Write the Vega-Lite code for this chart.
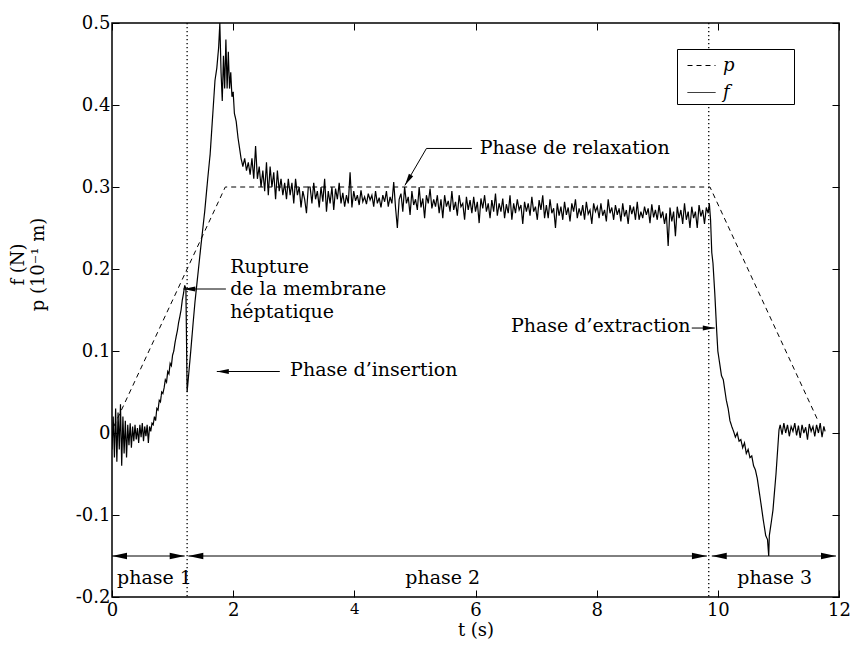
{
"$schema":"https://vega.github.io/schema/vega-lite/v6.json",
"width":727,"height":574,
"autosize":{"type":"none"},
"padding":{"left":112,"top":23,"right":16,"bottom":49},
"background":"white",
"config":{
 "view":{"stroke":"black","strokeWidth":1.5},
 "font":"DejaVu Serif",
 "axis":{"domain":false,"tickColor":"black","tickWidth":1,"tickSize":-7,"labelColor":"black","labelFont":"DejaVu Serif","labelFontSize":18,"labelFlush":false,"labelOverlap":false,"grid":false,"titleFont":"DejaVu Serif","titleFontSize":18,"titleFontWeight":"normal","titleColor":"black"},
 "legend":{"orient":"none","legendX":565,"legendY":26,"title":null,"strokeColor":"black","fillColor":"white","padding":2,"symbolType":"stroke","symbolSize":784,"symbolStrokeWidth":1,"symbolStrokeColor":"black","symbolOffset":8,"labelFontStyle":"italic","labelFontSize":18,"labelFont":"DejaVu Serif","labelColor":"black","rowPadding":3,"labelOffset":7}
},
"datasets":{
 "f":[
{"t":0,"v":-0.02},{"t":0.02,"v":0.02},{"t":0.04,"v":-0.03},{"t":0.06,"v":0.03},{"t":0.08,"v":-0.035},{"t":0.1,"v":0.025},{"t":0.12,"v":-0.02},{"t":0.14,"v":0.035},{"t":0.16,"v":-0.04},{"t":0.18,"v":0.02},{"t":0.2,"v":-0.025},{"t":0.22,"v":0.015},{"t":0.24,"v":-0.03},{"t":0.26,"v":0.01},{"t":0.28,"v":-0.015},{"t":0.3,"v":0.012},{"t":0.32,"v":-0.018},{"t":0.34,"v":0.008},{"t":0.36,"v":-0.01},{"t":0.38,"v":0.01},{"t":0.4,"v":-0.008},{"t":0.42,"v":0.006},{"t":0.44,"v":-0.012},{"t":0.46,"v":0.01},{"t":0.48,"v":-0.005},{"t":0.5,"v":0.012},{"t":0.52,"v":-0.01},{"t":0.54,"v":0.008},{"t":0.56,"v":-0.004},{"t":0.58,"v":0.01},{"t":0.6,"v":-0.012},{"t":0.62,"v":0.008},{"t":0.64,"v":0.002},{"t":0.66,"v":0.012},{"t":0.68,"v":0.01},{"t":0.7,"v":0.02},{"t":0.72,"v":0.015},{"t":0.74,"v":0.03},{"t":0.76,"v":0.028},{"t":0.78,"v":0.04},{"t":0.8,"v":0.038},{"t":0.82,"v":0.05},{"t":0.84,"v":0.048},{"t":0.86,"v":0.055},{"t":0.88,"v":0.065},{"t":0.9,"v":0.062},{"t":0.92,"v":0.075},{"t":0.94,"v":0.072},{"t":0.96,"v":0.085},{"t":0.98,"v":0.082},{"t":1,"v":0.095},{"t":1.02,"v":0.1},{"t":1.04,"v":0.11},{"t":1.06,"v":0.118},{"t":1.08,"v":0.125},{"t":1.1,"v":0.135},{"t":1.12,"v":0.142},{"t":1.14,"v":0.15},{"t":1.16,"v":0.162},{"t":1.18,"v":0.17},{"t":1.2,"v":0.18},{"t":1.22,"v":0.176},{"t":1.24,"v":0.05},
{"t":1.27,"v":0.075},{"t":1.3,"v":0.1},{"t":1.34,"v":0.135},{"t":1.37,"v":0.16},{"t":1.42,"v":0.195},{"t":1.47,"v":0.23},{"t":1.53,"v":0.27},{"t":1.58,"v":0.31},{"t":1.62,"v":0.34},{"t":1.66,"v":0.385},{"t":1.7,"v":0.43},{"t":1.73,"v":0.445},{"t":1.76,"v":0.47},{"t":1.78,"v":0.5},{"t":1.8,"v":0.44},{"t":1.82,"v":0.405},{"t":1.84,"v":0.46},{"t":1.86,"v":0.42},{"t":1.88,"v":0.48},{"t":1.9,"v":0.42},{"t":1.92,"v":0.465},{"t":1.94,"v":0.42},{"t":1.96,"v":0.44},{"t":1.98,"v":0.41},
{"t":2,"v":0.416},{"t":2.02,"v":0.39},{"t":2.05,"v":0.38},{"t":2.08,"v":0.36},{"t":2.1,"v":0.35},{"t":2.13,"v":0.335},{"t":2.16,"v":0.325},{"t":2.19,"v":0.335},{"t":2.22,"v":0.32},{"t":2.25,"v":0.33},{"t":2.28,"v":0.315},{"t":2.31,"v":0.335},{"t":2.34,"v":0.31},{"t":2.37,"v":0.35},{"t":2.4,"v":0.31},{"t":2.43,"v":0.325},{"t":2.46,"v":0.3},{"t":2.49,"v":0.32},{"t":2.52,"v":0.295},{"t":2.55,"v":0.33},{"t":2.58,"v":0.29},{"t":2.61,"v":0.325},{"t":2.64,"v":0.3},{"t":2.67,"v":0.318},{"t":2.7,"v":0.285},{"t":2.73,"v":0.32},{"t":2.76,"v":0.295},{"t":2.79,"v":0.31},{"t":2.82,"v":0.29},{"t":2.85,"v":0.305},{"t":2.88,"v":0.285},{"t":2.91,"v":0.31},{"t":2.94,"v":0.29},
{"t":2.97,"v":0.305},{"t":3.0,"v":0.28},{"t":3.03,"v":0.31},{"t":3.06,"v":0.29},{"t":3.09,"v":0.3},{"t":3.12,"v":0.275},{"t":3.15,"v":0.295},{"t":3.18,"v":0.285},{"t":3.21,"v":0.268},{"t":3.24,"v":0.3},
{"t":3.27,"v":0.3},{"t":3.3,"v":0.28},{"t":3.33,"v":0.305},{"t":3.36,"v":0.285},{"t":3.39,"v":0.295},{"t":3.42,"v":0.275},{"t":3.45,"v":0.3},{"t":3.48,"v":0.282},{"t":3.51,"v":0.31},{"t":3.54,"v":0.27},
{"t":3.57,"v":0.295},{"t":3.6,"v":0.28},{"t":3.63,"v":0.3},{"t":3.66,"v":0.272},{"t":3.69,"v":0.298},{"t":3.72,"v":0.285},{"t":3.75,"v":0.305},{"t":3.78,"v":0.28},{"t":3.81,"v":0.293},{"t":3.84,"v":0.276},
{"t":3.87,"v":0.29},{"t":3.9,"v":0.28},{"t":3.93,"v":0.318},{"t":3.96,"v":0.275},{"t":3.99,"v":0.295},{"t":4.02,"v":0.283},{"t":4.05,"v":0.29},{"t":4.08,"v":0.278},{"t":4.11,"v":0.296},{"t":4.14,"v":0.282},
{"t":4.17,"v":0.288},{"t":4.2,"v":0.279},{"t":4.23,"v":0.292},{"t":4.26,"v":0.284},{"t":4.29,"v":0.29},{"t":4.32,"v":0.276},{"t":4.35,"v":0.295},{"t":4.38,"v":0.28},{"t":4.41,"v":0.287},{"t":4.44,"v":0.275},
{"t":4.47,"v":0.29},{"t":4.5,"v":0.282},{"t":4.53,"v":0.295},{"t":4.56,"v":0.276},{"t":4.59,"v":0.288},{"t":4.62,"v":0.28},{"t":4.65,"v":0.306},{"t":4.68,"v":0.275},{"t":4.71,"v":0.25},{"t":4.74,"v":0.285},
{"t":4.77,"v":0.292},{"t":4.8,"v":0.27},{"t":4.83,"v":0.3},{"t":4.86,"v":0.28},{"t":4.89,"v":0.288},{"t":4.92,"v":0.266},{"t":4.95,"v":0.295},{"t":4.98,"v":0.278},{"t":5.01,"v":0.285},{"t":5.04,"v":0.272},
{"t":5.07,"v":0.3},{"t":5.1,"v":0.275},{"t":5.13,"v":0.286},{"t":5.16,"v":0.262},{"t":5.19,"v":0.29},{"t":5.22,"v":0.28},{"t":5.25,"v":0.298},{"t":5.28,"v":0.274},{"t":5.31,"v":0.285},{"t":5.34,"v":0.276},
{"t":5.37,"v":0.29},{"t":5.4,"v":0.268},{"t":5.43,"v":0.285},{"t":5.46,"v":0.262},{"t":5.49,"v":0.29},{"t":5.52,"v":0.276},{"t":5.55,"v":0.283},{"t":5.58,"v":0.27},{"t":5.61,"v":0.295},{"t":5.64,"v":0.272},
{"t":5.67,"v":0.282},{"t":5.7,"v":0.265},{"t":5.73,"v":0.29},{"t":5.76,"v":0.276},{"t":5.79,"v":0.28},{"t":5.82,"v":0.26},{"t":5.85,"v":0.288},{"t":5.88,"v":0.272},{"t":5.91,"v":0.284},{"t":5.94,"v":0.268},
{"t":5.97,"v":0.288},{"t":6.0,"v":0.27},{"t":6.03,"v":0.282},{"t":6.06,"v":0.256},{"t":6.09,"v":0.286},{"t":6.12,"v":0.274},{"t":6.15,"v":0.29},{"t":6.18,"v":0.27},{"t":6.21,"v":0.28},{"t":6.24,"v":0.262},
{"t":6.27,"v":0.284},{"t":6.3,"v":0.27},{"t":6.33,"v":0.292},{"t":6.36,"v":0.265},{"t":6.39,"v":0.28},{"t":6.42,"v":0.27},{"t":6.45,"v":0.286},{"t":6.48,"v":0.262},{"t":6.51,"v":0.279},{"t":6.54,"v":0.268},
{"t":6.57,"v":0.29},{"t":6.6,"v":0.26},{"t":6.63,"v":0.28},{"t":6.66,"v":0.268},{"t":6.69,"v":0.285},{"t":6.72,"v":0.272},{"t":6.75,"v":0.278},{"t":6.78,"v":0.255},{"t":6.81,"v":0.282},{"t":6.84,"v":0.27},
{"t":6.87,"v":0.28},{"t":6.9,"v":0.265},{"t":6.93,"v":0.288},{"t":6.96,"v":0.27},{"t":6.99,"v":0.276},{"t":7.02,"v":0.26},{"t":7.05,"v":0.284},{"t":7.08,"v":0.272},{"t":7.11,"v":0.29},{"t":7.14,"v":0.262},
{"t":7.17,"v":0.278},{"t":7.2,"v":0.262},{"t":7.23,"v":0.285},{"t":7.26,"v":0.268},{"t":7.29,"v":0.274},{"t":7.32,"v":0.25},{"t":7.35,"v":0.28},{"t":7.38,"v":0.265},{"t":7.41,"v":0.276},{"t":7.44,"v":0.26},
{"t":7.47,"v":0.282},{"t":7.5,"v":0.266},{"t":7.53,"v":0.275},{"t":7.56,"v":0.258},{"t":7.59,"v":0.28},{"t":7.62,"v":0.27},{"t":7.65,"v":0.285},{"t":7.68,"v":0.262},{"t":7.71,"v":0.274},{"t":7.74,"v":0.265},
{"t":7.77,"v":0.278},{"t":7.8,"v":0.26},{"t":7.83,"v":0.282},{"t":7.86,"v":0.267},{"t":7.89,"v":0.272},{"t":7.92,"v":0.255},{"t":7.95,"v":0.28},{"t":7.98,"v":0.27},{"t":8.01,"v":0.276},{"t":8.04,"v":0.262},
{"t":8.07,"v":0.28},{"t":8.1,"v":0.265},{"t":8.13,"v":0.272},{"t":8.16,"v":0.258},{"t":8.19,"v":0.285},{"t":8.22,"v":0.268},{"t":8.25,"v":0.275},{"t":8.28,"v":0.26},{"t":8.31,"v":0.278},{"t":8.34,"v":0.266},
{"t":8.37,"v":0.274},{"t":8.4,"v":0.258},{"t":8.43,"v":0.28},{"t":8.46,"v":0.264},{"t":8.49,"v":0.272},{"t":8.52,"v":0.255},{"t":8.55,"v":0.278},{"t":8.58,"v":0.267},{"t":8.61,"v":0.276},{"t":8.64,"v":0.26},
{"t":8.67,"v":0.282},{"t":8.7,"v":0.26},{"t":8.73,"v":0.27},{"t":8.76,"v":0.262},{"t":8.79,"v":0.276},{"t":8.82,"v":0.266},{"t":8.85,"v":0.274},{"t":8.88,"v":0.256},{"t":8.91,"v":0.279},{"t":8.94,"v":0.263},
{"t":8.97,"v":0.272},{"t":9.0,"v":0.26},{"t":9.03,"v":0.278},{"t":9.06,"v":0.262},{"t":9.09,"v":0.27},{"t":9.12,"v":0.255},{"t":9.15,"v":0.268},{"t":9.18,"v":0.228},{"t":9.21,"v":0.275},{"t":9.24,"v":0.258},
{"t":9.27,"v":0.27},{"t":9.3,"v":0.24},{"t":9.33,"v":0.276},{"t":9.36,"v":0.262},{"t":9.39,"v":0.272},{"t":9.42,"v":0.255},{"t":9.45,"v":0.28},{"t":9.48,"v":0.26},{"t":9.51,"v":0.27},{"t":9.54,"v":0.25},
{"t":9.57,"v":0.276},{"t":9.6,"v":0.262},{"t":9.63,"v":0.27},{"t":9.66,"v":0.25},{"t":9.69,"v":0.278},{"t":9.72,"v":0.264},{"t":9.75,"v":0.272},{"t":9.78,"v":0.255},{"t":9.81,"v":0.275},{"t":9.84,"v":0.268},
{"t":9.86,"v":0.28},{"t":9.88,"v":0.26},{"t":9.9,"v":0.22},{"t":9.92,"v":0.207},{"t":9.95,"v":0.17},{"t":9.98,"v":0.126},{"t":10.0,"v":0.1},{"t":10.03,"v":0.085},{"t":10.06,"v":0.07},{"t":10.09,"v":0.065},{"t":10.12,"v":0.05},{"t":10.14,"v":0.04},{"t":10.17,"v":0.03},{"t":10.2,"v":0.015},{"t":10.23,"v":0.008},{"t":10.26,"v":0.002},{"t":10.29,"v":-0.005},{"t":10.32,"v":0.0},{"t":10.35,"v":-0.01},{"t":10.38,"v":-0.008},{"t":10.41,"v":-0.018},{"t":10.44,"v":-0.012},{"t":10.47,"v":-0.025},{"t":10.5,"v":-0.02},{"t":10.53,"v":-0.03},{"t":10.56,"v":-0.028},{"t":10.59,"v":-0.04},{"t":10.62,"v":-0.045},{"t":10.65,"v":-0.055},{"t":10.7,"v":-0.08},{"t":10.75,"v":-0.106},{"t":10.79,"v":-0.125},{"t":10.82,"v":-0.13},{"t":10.84,"v":-0.15},{"t":10.85,"v":-0.125},{"t":10.88,"v":-0.11},{"t":10.91,"v":-0.094},{"t":10.96,"v":-0.05},{"t":11.01,"v":0.004},
{"t":11.03,"v":0.01},{"t":11.06,"v":-0.002},{"t":11.09,"v":0.012},{"t":11.12,"v":0.0},{"t":11.15,"v":0.01},{"t":11.18,"v":-0.004},{"t":11.21,"v":0.008},{"t":11.24,"v":0.002},{"t":11.27,"v":0.012},{"t":11.3,"v":-0.003},{"t":11.33,"v":0.009},{"t":11.36,"v":-0.006},{"t":11.39,"v":0.01},{"t":11.42,"v":0.0},{"t":11.45,"v":0.007},{"t":11.48,"v":-0.008},{"t":11.51,"v":0.011},{"t":11.54,"v":0.002},{"t":11.57,"v":0.008},{"t":11.6,"v":-0.004},{"t":11.63,"v":0.01},{"t":11.66,"v":0.0},{"t":11.69,"v":0.012},{"t":11.72,"v":-0.005},{"t":11.75,"v":0.008},{"t":11.77,"v":0.002}
 ],
 "p":[{"t":0.03,"v":0.008},{"t":1.87,"v":0.3},{"t":9.87,"v":0.3},{"t":11.66,"v":0.014}],
 "bounds":[{"t":1.24},{"t":9.85}],
 "leaders":[
  {"t":5.19,"v":0.347,"t2":5.94,"v2":0.347},
  {"t":5.19,"v":0.347,"t2":4.835,"v2":0.302},
  {"t":1.177,"v":0.1756,"t2":1.88,"v2":0.1756},
  {"t":1.73,"v":0.075,"t2":2.77,"v2":0.075},
  {"t":9.57,"v":0.128,"t2":9.95,"v2":0.128},
  {"t":0,"v":-0.15,"t2":1.2,"v2":-0.15},
  {"t":1.26,"v":-0.15,"t2":9.82,"v2":-0.15},
  {"t":9.9,"v":-0.15,"t2":11.95,"v2":-0.15}
 ],
 "heads":[
  {"t":0,"v":-0.15,"dir":"left","kind":"phase"},
  {"t":1.2,"v":-0.15,"dir":"right","kind":"phase"},
  {"t":1.26,"v":-0.15,"dir":"left","kind":"phase"},
  {"t":9.82,"v":-0.15,"dir":"right","kind":"phase"},
  {"t":9.9,"v":-0.15,"dir":"left","kind":"phase"},
  {"t":11.95,"v":-0.15,"dir":"right","kind":"phase"},
  {"t":1.177,"v":0.1756,"dir":"left","kind":"note"},
  {"t":1.73,"v":0.075,"dir":"left","kind":"note"},
  {"t":9.95,"v":0.128,"dir":"right","kind":"note"}
 ],
 "diag":[{"t":4.835,"v":0.302}],
 "notesL":[
  {"t":6.07,"v":0.347,"label":"Phase de relaxation"},
  {"t":1.95,"v":0.2025,"label":"Rupture"},
  {"t":1.95,"v":0.1756,"label":"de la membrane"},
  {"t":1.95,"v":0.1476,"label":"héptatique"},
  {"t":2.94,"v":0.077,"label":"Phase d’insertion"}
 ],
 "notesR":[{"t":9.55,"v":0.13,"label":"Phase d’extraction"}],
 "phases":[
  {"t":0.7,"v":-0.177,"label":"phase 1"},
  {"t":5.46,"v":-0.177,"label":"phase 2"},
  {"t":10.94,"v":-0.177,"label":"phase 3"}
 ]
},
"resolve":{"axis":{"x":"independent","y":"independent"}},
"layer":[
 {"data":{"name":"f"},
  "mark":{"type":"line","color":"black","strokeWidth":1.2,"clip":true},
  "encoding":{
   "x":{"field":"t","type":"quantitative","scale":{"domain":[0,12],"nice":false,"zero":false},
        "axis":{"values":[0,2,4,6,8,10,12],"title":"t (s)","labelPadding":11,"titlePadding":2,
                "labelFontSize":{"condition":{"test":"datum.value == 4","value":15},"value":18}}},
   "y":{"field":"v","type":"quantitative","scale":{"domain":[-0.2,0.5],"nice":false,"zero":false},
        "axis":{"values":[-0.2,-0.1,0,0.1,0.2,0.3,0.4,0.5],"title":["f (N)","p (10⁻¹ m)"],
                "labelExpr":"datum.value == 0 ? '0' : (datum.value < 0 ? '-' + format(-datum.value, '.1f') : format(datum.value, '.1f'))",
                "labelPadding":9,"titleX":-94,"titleY":241,"titleBaseline":"middle","titleLineHeight":20}},
   "strokeDash":{"datum":"f","type":"nominal","scale":{"domain":["p","f"],"range":[[5,4],[1,0]]},
        "legend":{"labelExpr":"datum.label + '\u00a0\u00a0\u00a0\u00a0\u00a0\u00a0\u00a0\u00a0\u00a0\u00a0\u200b'"}}
  }},
 {"data":{"name":"p"},
  "mark":{"type":"line","color":"black","strokeWidth":1},
  "encoding":{
   "x":{"field":"t","type":"quantitative","axis":{"orient":"top","values":[0,2,4,6,8,10,12],"labels":false,"title":null}},
   "y":{"field":"v","type":"quantitative","axis":{"orient":"right","values":[-0.2,-0.1,0,0.1,0.2,0.3,0.4,0.5],"labels":false,"title":null}},
   "strokeDash":{"datum":"p","type":"nominal","legend":{"labelExpr":"datum.label + '\u00a0\u00a0\u00a0\u00a0\u00a0\u00a0\u00a0\u00a0\u00a0\u00a0\u200b'"}}
  }},
 {"data":{"name":"bounds"},
  "mark":{"type":"rule","color":"black","strokeWidth":1.3,"strokeDash":[1.3,2.7]},
  "encoding":{"x":{"field":"t","type":"quantitative","axis":null}}},
 {"data":{"name":"leaders"},
  "mark":{"type":"rule","color":"black","strokeWidth":1},
  "encoding":{
   "x":{"field":"t","type":"quantitative","axis":null},"x2":{"field":"t2"},
   "y":{"field":"v","type":"quantitative","axis":null},"y2":{"field":"v2"}}},
 {"data":{"name":"heads"},
  "mark":{"type":"point","filled":true,"color":"black","opacity":1,"strokeWidth":0},
  "encoding":{
   "x":{"field":"t","type":"quantitative","axis":null},
   "y":{"field":"v","type":"quantitative","axis":null},
   "shape":{"field":"dir","type":"nominal","scale":{"domain":["left","right"],"range":["M0,0L2,-0.42L2,0.42Z","M0,0L-2,-0.42L-2,0.42Z"]},"legend":null},
   "size":{"field":"kind","type":"nominal","scale":{"domain":["phase","note"],"range":[225,144]},"legend":null}}},
 {"data":{"name":"diag"},
  "mark":{"type":"point","filled":true,"color":"black","opacity":1,"strokeWidth":0,"shape":"M0,0L2,-0.42L2,0.42Z","size":144,"angle":300.7},
  "encoding":{
   "x":{"field":"t","type":"quantitative","axis":null},
   "y":{"field":"v","type":"quantitative","axis":null}}},
 {"data":{"name":"notesL"},
  "mark":{"type":"text","align":"left","baseline":"middle","font":"DejaVu Serif","fontSize":19,"color":"black"},
  "encoding":{
   "x":{"field":"t","type":"quantitative","axis":null},
   "y":{"field":"v","type":"quantitative","axis":null},
   "text":{"field":"label"}}},
 {"data":{"name":"notesR"},
  "mark":{"type":"text","align":"right","baseline":"middle","font":"DejaVu Serif","fontSize":19,"color":"black"},
  "encoding":{
   "x":{"field":"t","type":"quantitative","axis":null},
   "y":{"field":"v","type":"quantitative","axis":null},
   "text":{"field":"label"}}},
 {"data":{"name":"phases"},
  "mark":{"type":"text","align":"center","baseline":"middle","font":"DejaVu Serif","fontSize":19,"color":"black"},
  "encoding":{
   "x":{"field":"t","type":"quantitative","axis":null},
   "y":{"field":"v","type":"quantitative","axis":null},
   "text":{"field":"label"}}}
]
}
